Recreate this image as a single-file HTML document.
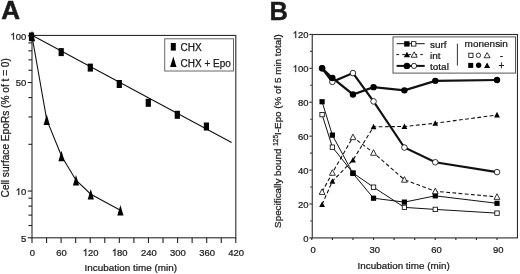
<!DOCTYPE html>
<html><head><meta charset="utf-8"><style>
html,body{margin:0;padding:0;background:#fff;width:520px;height:274px;overflow:hidden}
svg{display:block;will-change:transform}
text{font-family:"Liberation Sans",sans-serif}
</style></head><body>
<svg width="520" height="274" viewBox="0 0 520 274" font-family="Liberation Sans, sans-serif"><text transform="translate(1.20,18.90)" font-size="26" font-weight="bold" fill="#1a1a1a" stroke="#1a1a1a" stroke-width="0.5">A</text>
<text transform="translate(269.60,20.00)" font-size="25.5" font-weight="bold" fill="#1a1a1a" stroke="#1a1a1a" stroke-width="0.35">B</text>
<rect x="32.0" y="35.45" width="203.8" height="202.35000000000002" fill="none" stroke="#2a2a2a" stroke-width="1.1"/>
<line x1="32.00" y1="237.8" x2="32.00" y2="243.0" stroke="#222" stroke-width="1.1"/>
<line x1="46.56" y1="237.8" x2="46.56" y2="243.0" stroke="#222" stroke-width="1.1"/>
<line x1="61.11" y1="237.8" x2="61.11" y2="243.0" stroke="#222" stroke-width="1.1"/>
<line x1="75.67" y1="237.8" x2="75.67" y2="243.0" stroke="#222" stroke-width="1.1"/>
<line x1="90.23" y1="237.8" x2="90.23" y2="243.0" stroke="#222" stroke-width="1.1"/>
<line x1="104.79" y1="237.8" x2="104.79" y2="243.0" stroke="#222" stroke-width="1.1"/>
<line x1="119.34" y1="237.8" x2="119.34" y2="243.0" stroke="#222" stroke-width="1.1"/>
<line x1="133.90" y1="237.8" x2="133.90" y2="243.0" stroke="#222" stroke-width="1.1"/>
<line x1="148.46" y1="237.8" x2="148.46" y2="243.0" stroke="#222" stroke-width="1.1"/>
<line x1="163.01" y1="237.8" x2="163.01" y2="243.0" stroke="#222" stroke-width="1.1"/>
<line x1="177.57" y1="237.8" x2="177.57" y2="243.0" stroke="#222" stroke-width="1.1"/>
<line x1="192.13" y1="237.8" x2="192.13" y2="243.0" stroke="#222" stroke-width="1.1"/>
<line x1="206.69" y1="237.8" x2="206.69" y2="243.0" stroke="#222" stroke-width="1.1"/>
<line x1="221.24" y1="237.8" x2="221.24" y2="243.0" stroke="#222" stroke-width="1.1"/>
<line x1="235.80" y1="237.8" x2="235.80" y2="243.0" stroke="#222" stroke-width="1.1"/>
<text transform="translate(29.77,255.90) scale(0.965,1.0)" font-size="9.8" fill="#1a1a1a" stroke="#1a1a1a" stroke-width="0.25">0</text>
<text transform="translate(56.25,255.90) scale(0.965,1.0)" font-size="9.8" fill="#1a1a1a" stroke="#1a1a1a" stroke-width="0.25">6</text>
<text transform="translate(61.51,255.90) scale(0.965,1.0)" font-size="9.8" fill="#1a1a1a" stroke="#1a1a1a" stroke-width="0.25">0</text>
<path transform="translate(82.74,255.90) scale(0.00462,-0.00479)" d="M763 0H583V1147Q518 1085 412 1023Q307 961 223 930V1104Q375 1175 488 1276Q602 1378 649 1472H763Z" fill="#1a1a1a" stroke="#1a1a1a" stroke-width="52.2"/>
<text transform="translate(88.00,255.90) scale(0.965,1.0)" font-size="9.8" fill="#1a1a1a" stroke="#1a1a1a" stroke-width="0.25">2</text>
<text transform="translate(93.26,255.90) scale(0.965,1.0)" font-size="9.8" fill="#1a1a1a" stroke="#1a1a1a" stroke-width="0.25">0</text>
<path transform="translate(111.85,255.90) scale(0.00462,-0.00479)" d="M763 0H583V1147Q518 1085 412 1023Q307 961 223 930V1104Q375 1175 488 1276Q602 1378 649 1472H763Z" fill="#1a1a1a" stroke="#1a1a1a" stroke-width="52.2"/>
<text transform="translate(117.11,255.90) scale(0.965,1.0)" font-size="9.8" fill="#1a1a1a" stroke="#1a1a1a" stroke-width="0.25">8</text>
<text transform="translate(122.37,255.90) scale(0.965,1.0)" font-size="9.8" fill="#1a1a1a" stroke="#1a1a1a" stroke-width="0.25">0</text>
<text transform="translate(140.97,255.90) scale(0.965,1.0)" font-size="9.8" fill="#1a1a1a" stroke="#1a1a1a" stroke-width="0.25">2</text>
<text transform="translate(146.23,255.90) scale(0.965,1.0)" font-size="9.8" fill="#1a1a1a" stroke="#1a1a1a" stroke-width="0.25">4</text>
<text transform="translate(151.49,255.90) scale(0.965,1.0)" font-size="9.8" fill="#1a1a1a" stroke="#1a1a1a" stroke-width="0.25">0</text>
<text transform="translate(170.08,255.90) scale(0.965,1.0)" font-size="9.8" fill="#1a1a1a" stroke="#1a1a1a" stroke-width="0.25">3</text>
<text transform="translate(175.34,255.90) scale(0.965,1.0)" font-size="9.8" fill="#1a1a1a" stroke="#1a1a1a" stroke-width="0.25">0</text>
<text transform="translate(180.60,255.90) scale(0.965,1.0)" font-size="9.8" fill="#1a1a1a" stroke="#1a1a1a" stroke-width="0.25">0</text>
<text transform="translate(199.20,255.90) scale(0.965,1.0)" font-size="9.8" fill="#1a1a1a" stroke="#1a1a1a" stroke-width="0.25">3</text>
<text transform="translate(204.46,255.90) scale(0.965,1.0)" font-size="9.8" fill="#1a1a1a" stroke="#1a1a1a" stroke-width="0.25">6</text>
<text transform="translate(209.72,255.90) scale(0.965,1.0)" font-size="9.8" fill="#1a1a1a" stroke="#1a1a1a" stroke-width="0.25">0</text>
<text transform="translate(228.31,255.90) scale(0.965,1.0)" font-size="9.8" fill="#1a1a1a" stroke="#1a1a1a" stroke-width="0.25">4</text>
<text transform="translate(233.57,255.90) scale(0.965,1.0)" font-size="9.8" fill="#1a1a1a" stroke="#1a1a1a" stroke-width="0.25">2</text>
<text transform="translate(238.83,255.90) scale(0.965,1.0)" font-size="9.8" fill="#1a1a1a" stroke="#1a1a1a" stroke-width="0.25">0</text>
<line x1="27.80" y1="237.80" x2="32.0" y2="237.80" stroke="#222" stroke-width="1.1"/>
<text transform="translate(20.94,242.40) scale(0.965,1.0)" font-size="9.8" fill="#1a1a1a" stroke="#1a1a1a" stroke-width="0.25">5</text>
<line x1="28.40" y1="225.51" x2="32.0" y2="225.51" stroke="#222" stroke-width="1.1"/>
<line x1="28.40" y1="215.11" x2="32.0" y2="215.11" stroke="#222" stroke-width="1.1"/>
<line x1="28.40" y1="206.11" x2="32.0" y2="206.11" stroke="#222" stroke-width="1.1"/>
<line x1="28.40" y1="198.17" x2="32.0" y2="198.17" stroke="#222" stroke-width="1.1"/>
<line x1="27.80" y1="191.06" x2="32.0" y2="191.06" stroke="#222" stroke-width="1.1"/>
<path transform="translate(15.68,195.06) scale(0.00462,-0.00479)" d="M763 0H583V1147Q518 1085 412 1023Q307 961 223 930V1104Q375 1175 488 1276Q602 1378 649 1472H763Z" fill="#1a1a1a" stroke="#1a1a1a" stroke-width="52.2"/>
<text transform="translate(20.94,195.06) scale(0.965,1.0)" font-size="9.8" fill="#1a1a1a" stroke="#1a1a1a" stroke-width="0.25">0</text>
<line x1="28.40" y1="144.32" x2="32.0" y2="144.32" stroke="#222" stroke-width="1.1"/>
<line x1="28.40" y1="116.98" x2="32.0" y2="116.98" stroke="#222" stroke-width="1.1"/>
<line x1="28.40" y1="97.58" x2="32.0" y2="97.58" stroke="#222" stroke-width="1.1"/>
<line x1="27.80" y1="82.54" x2="32.0" y2="82.54" stroke="#222" stroke-width="1.1"/>
<text transform="translate(15.68,86.44) scale(0.965,1.0)" font-size="9.8" fill="#1a1a1a" stroke="#1a1a1a" stroke-width="0.25">5</text>
<text transform="translate(20.94,86.44) scale(0.965,1.0)" font-size="9.8" fill="#1a1a1a" stroke="#1a1a1a" stroke-width="0.25">0</text>
<line x1="28.40" y1="70.24" x2="32.0" y2="70.24" stroke="#222" stroke-width="1.1"/>
<line x1="28.40" y1="59.85" x2="32.0" y2="59.85" stroke="#222" stroke-width="1.1"/>
<line x1="28.40" y1="50.85" x2="32.0" y2="50.85" stroke="#222" stroke-width="1.1"/>
<line x1="28.40" y1="42.90" x2="32.0" y2="42.90" stroke="#222" stroke-width="1.1"/>
<line x1="27.80" y1="35.80" x2="32.0" y2="35.80" stroke="#222" stroke-width="1.1"/>
<path transform="translate(10.42,39.80) scale(0.00462,-0.00479)" d="M763 0H583V1147Q518 1085 412 1023Q307 961 223 930V1104Q375 1175 488 1276Q602 1378 649 1472H763Z" fill="#1a1a1a" stroke="#1a1a1a" stroke-width="52.2"/>
<text transform="translate(15.68,39.80) scale(0.965,1.0)" font-size="9.8" fill="#1a1a1a" stroke="#1a1a1a" stroke-width="0.25">0</text>
<text transform="translate(20.94,39.80) scale(0.965,1.0)" font-size="9.8" fill="#1a1a1a" stroke="#1a1a1a" stroke-width="0.25">0</text>
<text transform="translate(84.60,270.60) scale(0.99,0.88)" font-size="10" fill="#1a1a1a" stroke="#1a1a1a" stroke-width="0.25">Incubation time (min)</text>
<text transform="translate(8.60,197.40) rotate(-90)" font-size="10.13" fill="#1a1a1a" stroke="#1a1a1a" stroke-width="0.25">Cell surface EpoRs (% of t = 0)</text>
<line x1="32" y1="35.2" x2="231.6" y2="142.5" stroke="#111" stroke-width="1.1"/>
<polyline points="32,36 46.7,119.6 61.5,156.0 76,180.2 90.8,194.2 120.4,210.3" fill="none" stroke="#111" stroke-width="1.1"/>
<path d="M32.00 30.70 L35.10 41.30 L28.90 41.30Z" fill="#000"/>
<path d="M46.70 114.30 L49.80 124.90 L43.60 124.90Z" fill="#000"/>
<path d="M61.50 150.70 L64.60 161.30 L58.40 161.30Z" fill="#000"/>
<path d="M76.00 174.90 L79.10 185.50 L72.90 185.50Z" fill="#000"/>
<path d="M90.80 188.90 L93.90 199.50 L87.70 199.50Z" fill="#000"/>
<path d="M120.40 205.00 L123.50 215.60 L117.30 215.60Z" fill="#000"/>
<rect x="28.90" y="32.50" width="5.2" height="8" fill="#000"/>
<rect x="58.60" y="48.10" width="5.2" height="8" fill="#000"/>
<rect x="87.70" y="63.60" width="5.2" height="8" fill="#000"/>
<rect x="116.70" y="80.00" width="5.2" height="8" fill="#000"/>
<rect x="145.70" y="98.80" width="5.2" height="8" fill="#000"/>
<rect x="174.70" y="110.80" width="5.2" height="8" fill="#000"/>
<rect x="203.80" y="122.50" width="5.2" height="8" fill="#000"/>
<rect x="164.7" y="38.8" width="68.8" height="32.2" fill="#fff" stroke="#666" stroke-width="1"/>
<rect x="170.8" y="43" width="5" height="7.6" fill="#000"/>
<text transform="translate(180.50,51.40)" font-size="10" fill="#1a1a1a" stroke="#1a1a1a" stroke-width="0.25">CHX</text>
<path d="M173.30 56.45 L176.50 66.95 L170.10 66.95Z" fill="#000"/>
<text transform="translate(180.50,66.90)" font-size="10" fill="#1a1a1a" stroke="#1a1a1a" stroke-width="0.25">CHX + Epo</text>
<rect x="312.25" y="34.5" width="205.20000000000005" height="203.4" fill="none" stroke="#2a2a2a" stroke-width="1.1"/>
<line x1="311.80" y1="237.9" x2="311.80" y2="239.9" stroke="#222" stroke-width="1.1"/>
<line x1="332.38" y1="237.9" x2="332.38" y2="239.9" stroke="#222" stroke-width="1.1"/>
<line x1="352.96" y1="237.9" x2="352.96" y2="239.9" stroke="#222" stroke-width="1.1"/>
<line x1="373.54" y1="237.9" x2="373.54" y2="239.9" stroke="#222" stroke-width="1.1"/>
<line x1="394.12" y1="237.9" x2="394.12" y2="239.9" stroke="#222" stroke-width="1.1"/>
<line x1="414.70" y1="237.9" x2="414.70" y2="239.9" stroke="#222" stroke-width="1.1"/>
<line x1="435.28" y1="237.9" x2="435.28" y2="239.9" stroke="#222" stroke-width="1.1"/>
<line x1="455.86" y1="237.9" x2="455.86" y2="239.9" stroke="#222" stroke-width="1.1"/>
<line x1="476.44" y1="237.9" x2="476.44" y2="239.9" stroke="#222" stroke-width="1.1"/>
<line x1="497.02" y1="237.9" x2="497.02" y2="239.9" stroke="#222" stroke-width="1.1"/>
<text transform="translate(310.47,252.50) scale(0.965,1.0)" font-size="9.8" fill="#1a1a1a" stroke="#1a1a1a" stroke-width="0.25">0</text>
<text transform="translate(369.58,252.50) scale(0.965,1.0)" font-size="9.8" fill="#1a1a1a" stroke="#1a1a1a" stroke-width="0.25">3</text>
<text transform="translate(374.84,252.50) scale(0.965,1.0)" font-size="9.8" fill="#1a1a1a" stroke="#1a1a1a" stroke-width="0.25">0</text>
<text transform="translate(431.32,252.50) scale(0.965,1.0)" font-size="9.8" fill="#1a1a1a" stroke="#1a1a1a" stroke-width="0.25">6</text>
<text transform="translate(436.58,252.50) scale(0.965,1.0)" font-size="9.8" fill="#1a1a1a" stroke="#1a1a1a" stroke-width="0.25">0</text>
<text transform="translate(493.06,252.50) scale(0.965,1.0)" font-size="9.8" fill="#1a1a1a" stroke="#1a1a1a" stroke-width="0.25">9</text>
<text transform="translate(498.32,252.50) scale(0.965,1.0)" font-size="9.8" fill="#1a1a1a" stroke="#1a1a1a" stroke-width="0.25">0</text>
<line x1="309.40" y1="237.90" x2="311.8" y2="237.90" stroke="#222" stroke-width="1.1"/>
<text transform="translate(303.14,241.60) scale(0.965,1.0)" font-size="9.8" fill="#1a1a1a" stroke="#1a1a1a" stroke-width="0.25">0</text>
<line x1="310.20" y1="220.94" x2="311.8" y2="220.94" stroke="#222" stroke-width="1.1"/>
<line x1="309.40" y1="203.98" x2="311.8" y2="203.98" stroke="#222" stroke-width="1.1"/>
<text transform="translate(297.88,207.68) scale(0.965,1.0)" font-size="9.8" fill="#1a1a1a" stroke="#1a1a1a" stroke-width="0.25">2</text>
<text transform="translate(303.14,207.68) scale(0.965,1.0)" font-size="9.8" fill="#1a1a1a" stroke="#1a1a1a" stroke-width="0.25">0</text>
<line x1="310.20" y1="187.03" x2="311.8" y2="187.03" stroke="#222" stroke-width="1.1"/>
<line x1="309.40" y1="170.07" x2="311.8" y2="170.07" stroke="#222" stroke-width="1.1"/>
<text transform="translate(297.88,173.77) scale(0.965,1.0)" font-size="9.8" fill="#1a1a1a" stroke="#1a1a1a" stroke-width="0.25">4</text>
<text transform="translate(303.14,173.77) scale(0.965,1.0)" font-size="9.8" fill="#1a1a1a" stroke="#1a1a1a" stroke-width="0.25">0</text>
<line x1="310.20" y1="153.11" x2="311.8" y2="153.11" stroke="#222" stroke-width="1.1"/>
<line x1="309.40" y1="136.15" x2="311.8" y2="136.15" stroke="#222" stroke-width="1.1"/>
<text transform="translate(297.88,139.85) scale(0.965,1.0)" font-size="9.8" fill="#1a1a1a" stroke="#1a1a1a" stroke-width="0.25">6</text>
<text transform="translate(303.14,139.85) scale(0.965,1.0)" font-size="9.8" fill="#1a1a1a" stroke="#1a1a1a" stroke-width="0.25">0</text>
<line x1="310.20" y1="119.19" x2="311.8" y2="119.19" stroke="#222" stroke-width="1.1"/>
<line x1="309.40" y1="102.23" x2="311.8" y2="102.23" stroke="#222" stroke-width="1.1"/>
<text transform="translate(297.88,105.93) scale(0.965,1.0)" font-size="9.8" fill="#1a1a1a" stroke="#1a1a1a" stroke-width="0.25">8</text>
<text transform="translate(303.14,105.93) scale(0.965,1.0)" font-size="9.8" fill="#1a1a1a" stroke="#1a1a1a" stroke-width="0.25">0</text>
<line x1="310.20" y1="85.28" x2="311.8" y2="85.28" stroke="#222" stroke-width="1.1"/>
<line x1="309.40" y1="68.32" x2="311.8" y2="68.32" stroke="#222" stroke-width="1.1"/>
<path transform="translate(292.62,72.02) scale(0.00462,-0.00479)" d="M763 0H583V1147Q518 1085 412 1023Q307 961 223 930V1104Q375 1175 488 1276Q602 1378 649 1472H763Z" fill="#1a1a1a" stroke="#1a1a1a" stroke-width="52.2"/>
<text transform="translate(297.88,72.02) scale(0.965,1.0)" font-size="9.8" fill="#1a1a1a" stroke="#1a1a1a" stroke-width="0.25">0</text>
<text transform="translate(303.14,72.02) scale(0.965,1.0)" font-size="9.8" fill="#1a1a1a" stroke="#1a1a1a" stroke-width="0.25">0</text>
<line x1="310.20" y1="51.36" x2="311.8" y2="51.36" stroke="#222" stroke-width="1.1"/>
<line x1="309.40" y1="34.40" x2="311.8" y2="34.40" stroke="#222" stroke-width="1.1"/>
<path transform="translate(292.62,38.10) scale(0.00462,-0.00479)" d="M763 0H583V1147Q518 1085 412 1023Q307 961 223 930V1104Q375 1175 488 1276Q602 1378 649 1472H763Z" fill="#1a1a1a" stroke="#1a1a1a" stroke-width="52.2"/>
<text transform="translate(297.88,38.10) scale(0.965,1.0)" font-size="9.8" fill="#1a1a1a" stroke="#1a1a1a" stroke-width="0.25">2</text>
<text transform="translate(303.14,38.10) scale(0.965,1.0)" font-size="9.8" fill="#1a1a1a" stroke="#1a1a1a" stroke-width="0.25">0</text>
<text transform="translate(357.60,268.50) scale(0.987,0.87)" font-size="10" fill="#1a1a1a" stroke="#1a1a1a" stroke-width="0.25">Incubation time (min)</text>
<text transform="translate(281.2,227.9) rotate(-90)" font-size="9.85" fill="#1a1a1a" stroke="#1a1a1a" stroke-width="0.25">Specifically bound <tspan font-size="6.5" dy="-3.5">125</tspan><tspan dy="3.5">I-Epo (% of 5 min total)</tspan></text>
<polyline points="322.09,114.61 332.38,147.17 352.96,172.95 373.54,187.19 404.41,207.38 435.28,209.41 497.02,213.14" fill="none" stroke="#111" stroke-width="1.0"/>
<polyline points="322.09,101.72 332.38,135.13 352.96,173.46 373.54,198.22 404.41,202.12 435.28,195.84 497.02,203.31" fill="none" stroke="#111" stroke-width="1.0"/>
<polyline points="322.09,191.94 332.38,172.78 352.96,137.17 373.54,152.77 404.41,179.73 435.28,191.26 497.02,196.86" fill="none" stroke="#111" stroke-width="1.1" stroke-dasharray="3.8 2.4"/>
<polyline points="322.09,204.49 332.38,181.26 352.96,160.06 373.54,126.82 404.41,126.48 435.28,123.26 497.02,114.95" fill="none" stroke="#111" stroke-width="1.1" stroke-dasharray="3.8 2.4"/>
<polyline points="322.09,68.32 332.38,81.88 352.96,73.06 373.54,101.39 404.41,147.51 435.28,162.27 497.02,172.10" fill="none" stroke="#111" stroke-width="2.2"/>
<polyline points="322.09,68.32 332.38,77.98 352.96,94.43 373.54,87.14 404.41,90.36 435.28,80.87 497.02,80.02" fill="none" stroke="#111" stroke-width="2.2"/>
<rect x="319.89" y="112.41" width="4.4" height="4.4" fill="#fff" stroke="#000" stroke-width="0.8"/>
<rect x="330.18" y="144.97" width="4.4" height="4.4" fill="#fff" stroke="#000" stroke-width="0.8"/>
<rect x="350.76" y="170.75" width="4.4" height="4.4" fill="#fff" stroke="#000" stroke-width="0.8"/>
<rect x="371.34" y="184.99" width="4.4" height="4.4" fill="#fff" stroke="#000" stroke-width="0.8"/>
<rect x="402.21" y="205.18" width="4.4" height="4.4" fill="#fff" stroke="#000" stroke-width="0.8"/>
<rect x="433.08" y="207.21" width="4.4" height="4.4" fill="#fff" stroke="#000" stroke-width="0.8"/>
<rect x="494.82" y="210.94" width="4.4" height="4.4" fill="#fff" stroke="#000" stroke-width="0.8"/>
<rect x="319.49" y="99.12" width="5.2" height="5.2" fill="#000"/>
<rect x="329.78" y="132.53" width="5.2" height="5.2" fill="#000"/>
<rect x="350.36" y="170.86" width="5.2" height="5.2" fill="#000"/>
<rect x="370.94" y="195.62" width="5.2" height="5.2" fill="#000"/>
<rect x="401.81" y="199.52" width="5.2" height="5.2" fill="#000"/>
<rect x="432.68" y="193.24" width="5.2" height="5.2" fill="#000"/>
<rect x="494.42" y="200.71" width="5.2" height="5.2" fill="#000"/>
<path d="M322.09 188.84 L324.99 194.44 L319.19 194.44Z" fill="#fff" stroke="#000" stroke-width="0.8" stroke-linejoin="miter"/>
<path d="M332.38 169.68 L335.28 175.28 L329.48 175.28Z" fill="#fff" stroke="#000" stroke-width="0.8" stroke-linejoin="miter"/>
<path d="M352.96 134.07 L355.86 139.67 L350.06 139.67Z" fill="#fff" stroke="#000" stroke-width="0.8" stroke-linejoin="miter"/>
<path d="M373.54 149.67 L376.44 155.27 L370.64 155.27Z" fill="#fff" stroke="#000" stroke-width="0.8" stroke-linejoin="miter"/>
<path d="M404.41 176.63 L407.31 182.23 L401.51 182.23Z" fill="#fff" stroke="#000" stroke-width="0.8" stroke-linejoin="miter"/>
<path d="M435.28 188.16 L438.18 193.76 L432.38 193.76Z" fill="#fff" stroke="#000" stroke-width="0.8" stroke-linejoin="miter"/>
<path d="M497.02 193.76 L499.92 199.36 L494.12 199.36Z" fill="#fff" stroke="#000" stroke-width="0.8" stroke-linejoin="miter"/>
<path d="M322.09 201.39 L324.99 206.99 L319.19 206.99Z" fill="#000"/>
<path d="M332.38 178.16 L335.28 183.76 L329.48 183.76Z" fill="#000"/>
<path d="M352.96 156.96 L355.86 162.56 L350.06 162.56Z" fill="#000"/>
<path d="M373.54 123.72 L376.44 129.32 L370.64 129.32Z" fill="#000"/>
<path d="M404.41 123.38 L407.31 128.98 L401.51 128.98Z" fill="#000"/>
<path d="M435.28 120.16 L438.18 125.76 L432.38 125.76Z" fill="#000"/>
<path d="M497.02 111.85 L499.92 117.45 L494.12 117.45Z" fill="#000"/>
<circle cx="322.09" cy="68.32" r="2.8000000000000003" fill="#fff" stroke="#000" stroke-width="0.8"/>
<circle cx="332.38" cy="81.88" r="2.8000000000000003" fill="#fff" stroke="#000" stroke-width="0.8"/>
<circle cx="352.96" cy="73.06" r="2.8000000000000003" fill="#fff" stroke="#000" stroke-width="0.8"/>
<circle cx="373.54" cy="101.39" r="2.8000000000000003" fill="#fff" stroke="#000" stroke-width="0.8"/>
<circle cx="404.41" cy="147.51" r="2.8000000000000003" fill="#fff" stroke="#000" stroke-width="0.8"/>
<circle cx="435.28" cy="162.27" r="2.8000000000000003" fill="#fff" stroke="#000" stroke-width="0.8"/>
<circle cx="497.02" cy="172.10" r="2.8000000000000003" fill="#fff" stroke="#000" stroke-width="0.8"/>
<circle cx="322.09" cy="68.32" r="3.2" fill="#000"/>
<circle cx="332.38" cy="77.98" r="3.2" fill="#000"/>
<circle cx="352.96" cy="94.43" r="3.2" fill="#000"/>
<circle cx="373.54" cy="87.14" r="3.2" fill="#000"/>
<circle cx="404.41" cy="90.36" r="3.2" fill="#000"/>
<circle cx="435.28" cy="80.87" r="3.2" fill="#000"/>
<circle cx="497.02" cy="80.02" r="3.2" fill="#000"/>
<rect x="393" y="36.9" width="122.5" height="36.2" fill="#fff" stroke="#555" stroke-width="1"/>
<line x1="396.6" y1="43.7" x2="424.7" y2="43.7" stroke="#111" stroke-width="1"/>
<rect x="404.20" y="41.20" width="5.4" height="5.4" fill="#000"/>
<rect x="411.50" y="41.70" width="4.4" height="4.4" fill="#fff" stroke="#000" stroke-width="0.8"/>
<line x1="396.3" y1="54.6" x2="422.8" y2="54.6" stroke="#111" stroke-width="1" stroke-dasharray="2.8 3.2"/>
<path d="M406.90 51.85 L410.00 57.25 L403.80 57.25Z" fill="#000"/>
<path d="M414.15 51.85 L417.15 57.25 L411.15 57.25Z" fill="#fff" stroke="#000" stroke-width="0.8" stroke-linejoin="miter"/>
<line x1="396.6" y1="65.9" x2="424.7" y2="65.9" stroke="#111" stroke-width="2"/>
<circle cx="406.90" cy="65.90" r="3.2" fill="#000"/>
<circle cx="414.05" cy="65.90" r="2.6" fill="#fff" stroke="#000" stroke-width="0.8"/>
<text transform="translate(430.00,48.00) scale(1.0,0.93)" font-size="10" fill="#1a1a1a" stroke="#1a1a1a" stroke-width="0.25">surf</text>
<text transform="translate(430.00,58.70) scale(1.0,0.93)" font-size="10" fill="#1a1a1a" stroke="#1a1a1a" stroke-width="0.25">int</text>
<text transform="translate(430.00,69.60) scale(1.0,0.93)" font-size="10" fill="#1a1a1a" stroke="#1a1a1a" stroke-width="0.25">total</text>
<line x1="457.4" y1="43.7" x2="457.4" y2="65.6" stroke="#333" stroke-width="1"/>
<text transform="translate(464.60,47.40) scale(1.0,0.93)" font-size="10" fill="#1a1a1a" stroke="#1a1a1a" stroke-width="0.25">monensin</text>
<rect x="468.80" y="53.20" width="4.2" height="4.2" fill="#fff" stroke="#000" stroke-width="0.8"/>
<circle cx="478.40" cy="55.30" r="2.2" fill="#fff" stroke="#000" stroke-width="0.8"/>
<path d="M487.10 52.55 L490.10 57.75 L484.10 57.75Z" fill="#fff" stroke="#000" stroke-width="0.8" stroke-linejoin="miter"/>
<rect x="468.20" y="62.90" width="5.0" height="5.0" fill="#000"/>
<circle cx="478.60" cy="65.30" r="2.7" fill="#000"/>
<path d="M487.10 62.60 L490.10 67.90 L484.10 67.90Z" fill="#000"/>
<text transform="translate(499.80,58.60)" font-size="10" fill="#1a1a1a" stroke="#1a1a1a" stroke-width="0.25">-</text>
<text transform="translate(498.40,69.30)" font-size="10" fill="#1a1a1a" stroke="#1a1a1a" stroke-width="0.25">+</text></svg>
</body></html>
